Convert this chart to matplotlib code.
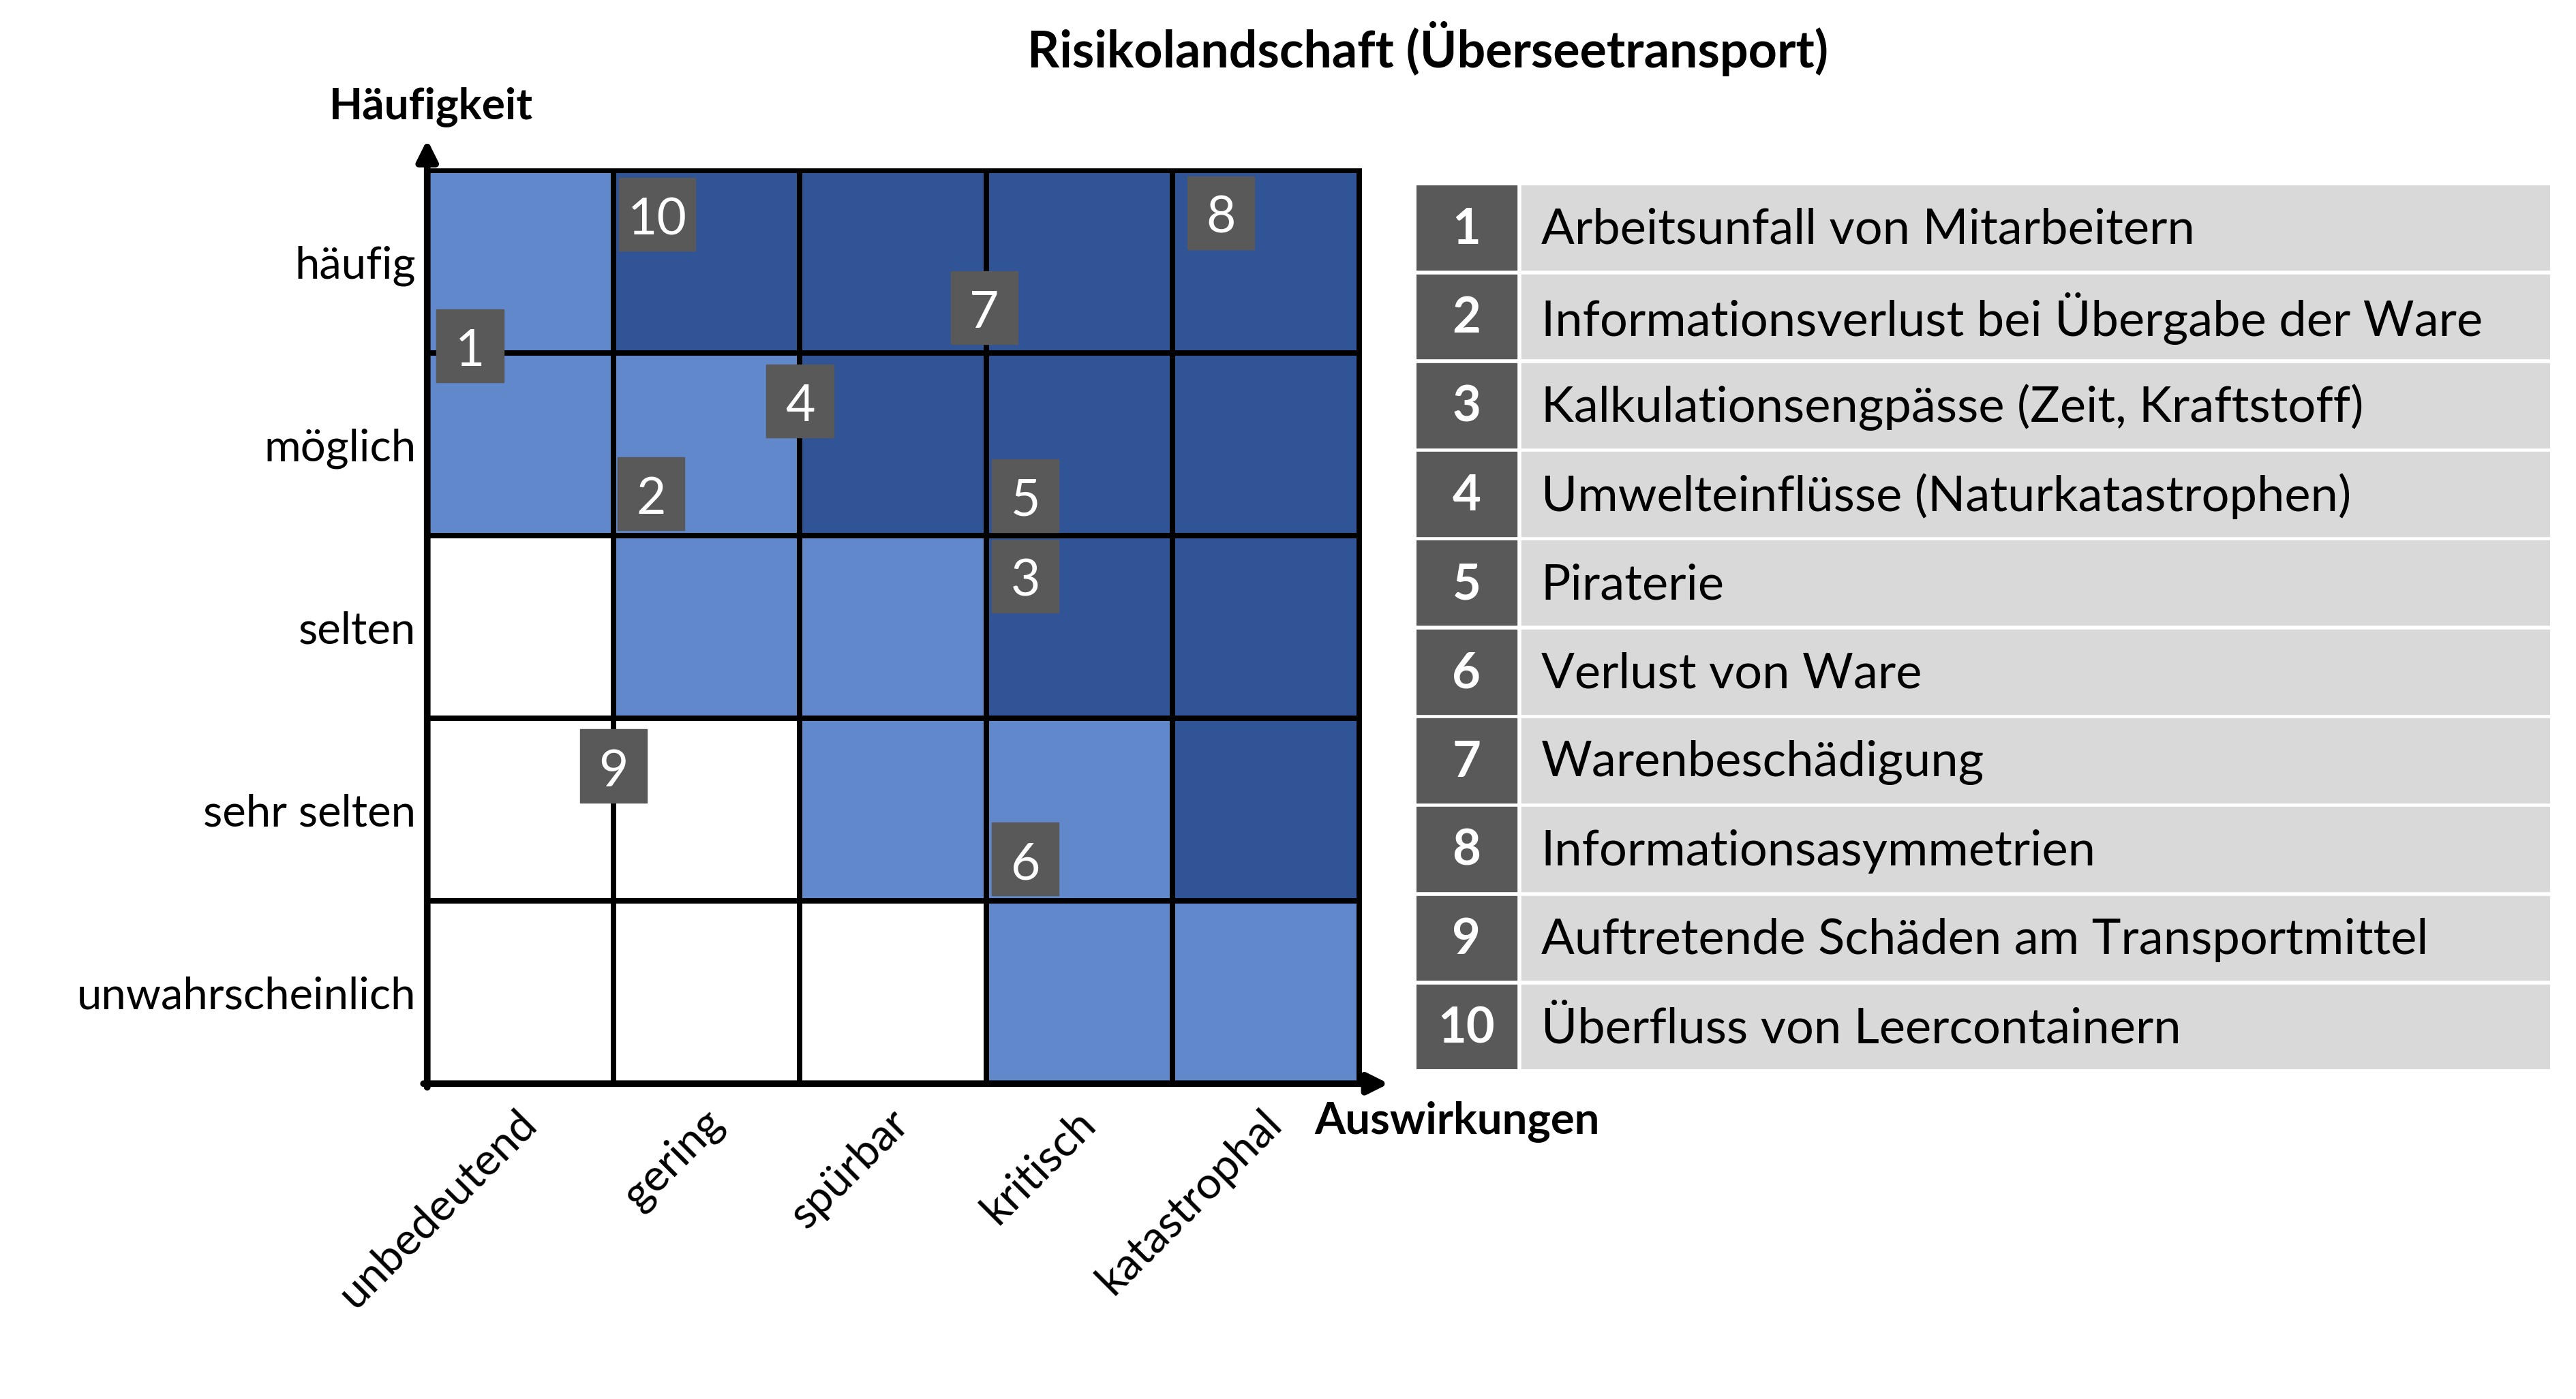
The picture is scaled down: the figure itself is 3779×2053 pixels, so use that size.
import matplotlib.pyplot as plt
import numpy as np
from matplotlib.colors import ListedColormap
from matplotlib.patches import Rectangle

plt.rcParams['font.family'] = ['Lato', 'DejaVu Sans']

# axis categories
impact = ['unbedeutend', 'gering', 'spürbar', 'kritisch', 'katastrophal']
frequency = ['unwahrscheinlich', 'sehr selten', 'selten', 'möglich', 'häufig']  # bottom -> top

# risk level per cell (0 = low, 1 = medium, 2 = high), rows bottom -> top
levels = np.array([
    [0, 0, 0, 1, 1],
    [0, 0, 1, 1, 2],
    [0, 1, 1, 2, 2],
    [1, 1, 2, 2, 2],
    [1, 2, 2, 2, 2],
])

# risks: number, position (impact, frequency) in grid units, description
risk_ids = [1, 2, 3, 4, 5, 6, 7, 8, 9, 10]
risk_x = [0.23, 1.20, 3.21, 2.00, 3.21, 3.21, 2.99, 4.26, 1.00, 1.235]
risk_y = [4.04, 3.23, 2.78, 3.74, 3.22, 1.23, 4.25, 4.77, 1.74, 4.76]
risk_names = [
    'Arbeitsunfall von Mitarbeitern',
    'Informationsverlust bei Übergabe der Ware',
    'Kalkulationsengpässe (Zeit, Kraftstoff)',
    'Umwelteinflüsse (Naturkatastrophen)',
    'Piraterie',
    'Verlust von Ware',
    'Warenbeschädigung',
    'Informationsasymmetrien',
    'Auftretende Schäden am Transportmittel',
    'Überfluss von Leercontainern',
]

cmap = ListedColormap(['#FFFFFF', '#6088CA', '#315497'])
box_col = '#595959'
fs = 48

fig = plt.figure(figsize=(37.8, 20.53), dpi=100)

# ---- risk matrix ----
ax = fig.add_axes([0.1658, 0.2254, 0.3616, 0.6526])
ax.pcolormesh(np.arange(6), np.arange(6), levels, cmap=cmap, vmin=0, vmax=2,
              edgecolors='black', linewidth=4.5)
ax.set_xlim(0, 5)
ax.set_ylim(0, 5)
for s in ax.spines.values():
    s.set_visible(False)
ax.plot([5, 5], [0, 5], color='black', lw=5, clip_on=False)
ax.plot([0, 5], [5, 5], color='black', lw=5, clip_on=False)

# axes arrows
ax.annotate('', xy=(0, 5.17), xytext=(0, -0.02),
            arrowprops=dict(arrowstyle='-|>', lw=7, color='black', mutation_scale=45,
                            shrinkA=0, shrinkB=0), annotation_clip=False)
ax.annotate('', xy=(5.16, 0), xytext=(-0.02, 0),
            arrowprops=dict(arrowstyle='-|>', lw=7, color='black', mutation_scale=45,
                            shrinkA=0, shrinkB=0), annotation_clip=False)

ax.set_yticks(np.arange(5) + 0.5)
ax.set_yticklabels(frequency, fontsize=47)
ax.tick_params(axis='y', length=0, pad=12)
ax.set_xticks([])

for i, lab in enumerate(impact):
    ax.text(i + 0.5 + 0.05, -0.18, lab, rotation=45, rotation_mode='anchor',
            ha='right', va='center', fontsize=47)

ax.text(4.76, -0.21, 'Auswirkungen', ha='left', va='center', fontsize=47, fontweight='bold')
ax.text(0.02, 5.35, 'Häufigkeit', ha='center', va='center', fontsize=46, fontweight='bold')

for rid, x, y in zip(risk_ids, risk_x, risk_y):
    w = 0.36 if rid < 10 else 0.41
    h = 0.40
    ax.add_patch(Rectangle((x - w / 2, y - h / 2), w, h, color=box_col, zorder=5,
                           clip_on=False))
    ax.text(x, y - 0.03, str(rid), ha='center', va='center', color='white', fontsize=54,
            zorder=6)

# ---- legend table ----
lg = fig.add_axes([0.5497, 0.2359, 0.4401, 0.6315])
lg.set_xlim(0, 1)
lg.set_ylim(len(risk_ids) - 0.05, 0)
lg.axis('off')
for k, (rid, name) in enumerate(zip(risk_ids, risk_names)):
    lg.add_patch(Rectangle((0, k), 0.0884, 0.95, color=box_col))
    lg.add_patch(Rectangle((0.0928, k), 1 - 0.0928, 0.95, color='#D9D9D9'))
    lg.text(0.0442, k + 0.5, str(rid), ha='center', va='center', color='white',
            fontsize=52, fontweight='bold')
    lg.text(0.110, k + 0.5, name, ha='left', va='center', fontsize=52)

fig.text(0.554, 0.965, 'Risikolandschaft (Überseetransport)', ha='center', va='center',
         fontsize=53, fontweight='bold')

fig.savefig('out.png', dpi=100)
